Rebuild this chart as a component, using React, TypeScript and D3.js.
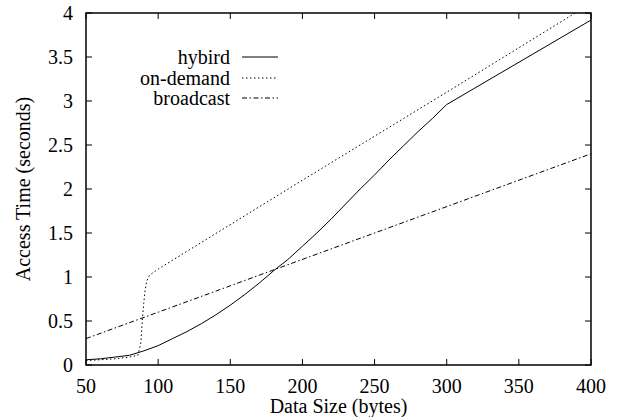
import React from "react";
import * as d3 from "d3";

const xTicks = [50, 100, 150, 200, 250, 300, 350, 400];
const yTicks = [0, 0.5, 1, 1.5, 2, 2.5, 3, 3.5, 4];
const yTickLabels = ["0", "0.5", "1", "1.5", "2", "2.5", "3", "3.5", "4"];

const hybridX = [50, 60, 70, 80, 90, 100, 110, 120, 130, 140, 150, 160, 170, 180, 190, 200, 210, 220, 230, 240, 250, 260, 270, 280, 290, 300, 400];
const hybridY = [0.06, 0.07, 0.09, 0.11, 0.16, 0.22, 0.3, 0.38, 0.47, 0.57, 0.68, 0.8, 0.93, 1.07, 1.2, 1.35, 1.5, 1.66, 1.83, 2.0, 2.16, 2.33, 2.49, 2.65, 2.8, 2.96, 3.92];

const onDemandX = [50, 60, 70, 80, 86, 88, 89, 90, 91, 92, 94, 100, 200, 300, 400];
const onDemandY = [0.05, 0.06, 0.07, 0.09, 0.11, 0.25, 0.5, 0.7, 0.85, 0.95, 1.02, 1.09, 2.1, 3.1, 4.11];

const broadcastX = [50, 400];
const broadcastY = [0.3, 2.4];

const seriesNames = ["hybird", "on-demand", "broadcast"];
const seriesDash = ["none", "1.5,2.5", "5,2.5,1.5,2.5"];

const W = 626, H = 417;
const L = 86, R = 591, T = 13, B = 365;
const FONT = '"Liberation Serif", "Tinos", monospace';
const FS = 20;

export default function App() {
  const x = d3.scaleLinear().domain([50, 400]).range([L, R]);
  const y = d3.scaleLinear().domain([0, 4]).range([B, T]);
  const line = d3.line<[number, number]>().x(d => x(d[0])).y(d => y(d[1]));
  const mk = (xs: number[], ys: number[]) => xs.map((v, i) => [v, ys[i]] as [number, number]);
  const series = [mk(hybridX, hybridY), mk(onDemandX, onDemandY), mk(broadcastX, broadcastY)];
  const tick = 6;
  const legendY = [57, 78, 98];
  const ts = { fontFamily: FONT, fontSize: FS };

  return (
    <svg width={W} height={H} style={{ position: "absolute", left: 0, top: 0, background: "#fff", fontFamily: FONT }}>
      <defs>
        <clipPath id="plot">
          <rect x={L} y={T} width={R - L} height={B - T} />
        </clipPath>
      </defs>
      <rect x={0} y={0} width={W} height={H} fill="#fff" />
      {xTicks.map(t => (
        <g key={"x" + t}>
          <line x1={x(t)} x2={x(t)} y1={B} y2={B - tick} stroke="#000" strokeWidth={1} />
          <line x1={x(t)} x2={x(t)} y1={T} y2={T + tick} stroke="#000" strokeWidth={1} />
          <text x={x(t)} y={393} textAnchor="middle" fontFamily="Liberation Serif" style={ts}>{String(t)}</text>
        </g>
      ))}
      {yTicks.map((t, i) => (
        <g key={"y" + t}>
          <line x1={L} x2={L + tick} y1={y(t)} y2={y(t)} stroke="#000" strokeWidth={1} />
          <line x1={R} x2={R - tick} y1={y(t)} y2={y(t)} stroke="#000" strokeWidth={1} />
          <text x={73} y={y(t) + 7} textAnchor="end" fontFamily="Liberation Serif" style={ts}>{yTickLabels[i]}</text>
        </g>
      ))}
      <g clipPath="url(#plot)">
        {series.map((s, i) => (
          <path key={i} d={line(s) || ""} fill="none" stroke="#000" strokeWidth={1} strokeDasharray={seriesDash[i]} />
        ))}
      </g>
      <rect x={L} y={T} width={R - L} height={B - T} fill="none" stroke="#000" strokeWidth={1.5} />
      {seriesNames.map((n, i) => (
        <g key={n}>
          <text x={230} y={legendY[i] + 6.5} textAnchor="end" fontFamily="Liberation Serif" style={ts}>{n}</text>
          <line x1={242} x2={278} y1={legendY[i]} y2={legendY[i]} stroke="#000" strokeWidth={1} strokeDasharray={seriesDash[i]} />
        </g>
      ))}
      <text x={(L + R) / 2} y={413} textAnchor="middle" fontFamily="Liberation Serif" style={ts}>Data Size (bytes)</text>
      <text transform={`translate(30,189) rotate(-90)`} textAnchor="middle" fontFamily="Liberation Serif" style={ts}>Access Time (seconds)</text>
    </svg>
  );
}
